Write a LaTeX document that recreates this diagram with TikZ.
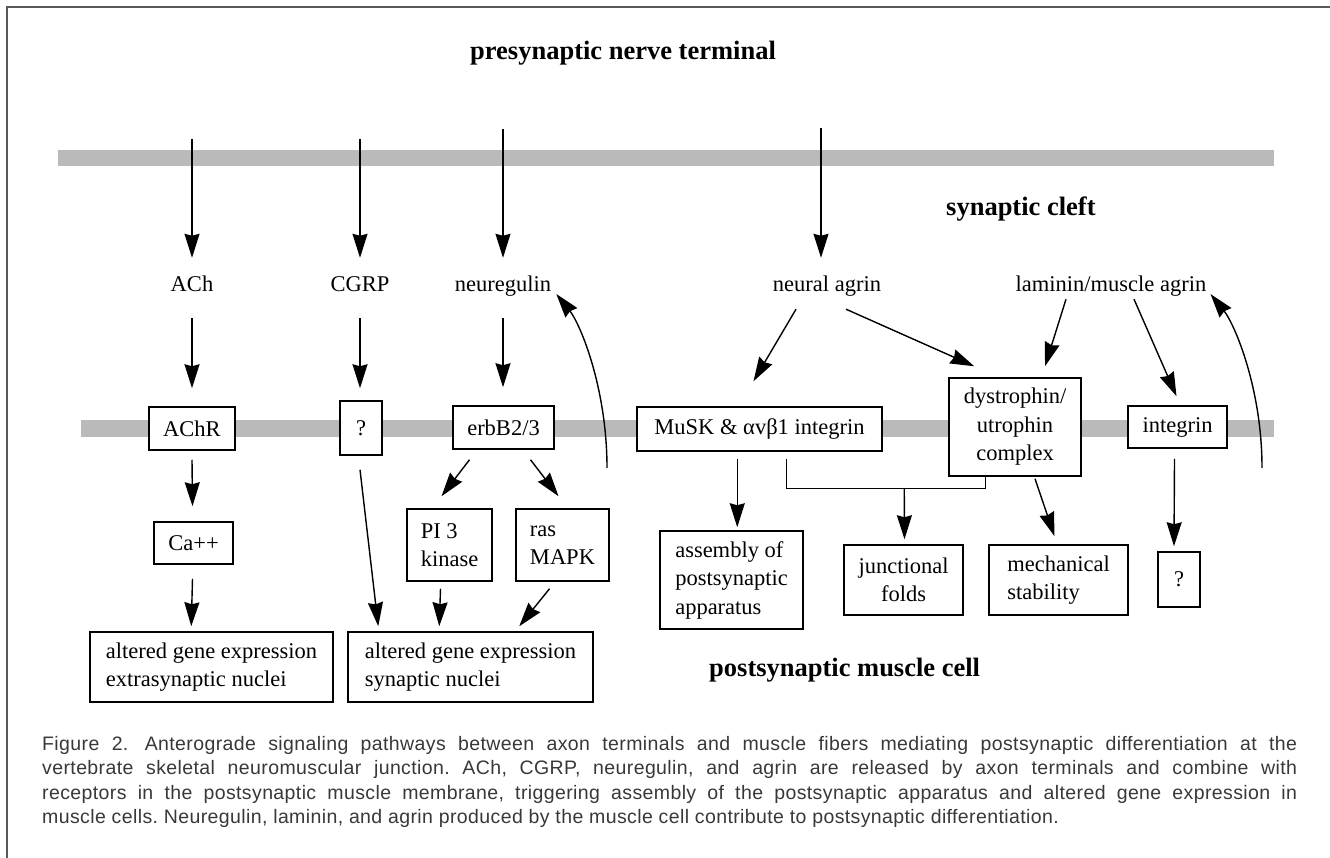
\documentclass[tikz,border=0pt]{standalone}
\usepackage{fontspec}
\setmainfont{Liberation Serif}
\newfontfamily\capfont[LetterSpace=2]{Liberation Sans}
\usetikzlibrary{arrows.meta,calc}
\newcommand\dfont{\fontsize{22.5pt}{28.5pt}\selectfont}
\newcommand\tfont{\fontsize{26.5pt}{30pt}\selectfont\bfseries}
\newcommand\cfont{\capfont\fontsize{19.5pt}{24.5pt}\selectfont\frenchspacing}
\tikzset{
  box/.style 2 args={draw, line width=1.5pt, fill=white, inner sep=0pt, minimum width=#1, minimum height=#2, font=\dfont},
  lbl/.style={inner sep=0pt, font=\dfont, anchor=base, text height=15pt, text depth=5pt},
  ttl/.style={inner sep=0pt, font=\tfont, anchor=base west},
  capline/.style={inner sep=0pt, anchor=base west, font=\cfont, text=black!78},
  arr/.style={line width=1.4pt, -{Stealth[length=24pt,width=15pt,inset=2pt]}},
  ln/.style={line width=1.4pt},
  membrane/.style={fill=black!27, draw=none}}
\begin{document}
\begin{tikzpicture}[x=1pt,y=-1pt]
\useasboundingbox (0,0) rectangle (1330,858);
% frame
\draw[line width=2pt, black!65] (7,858) -- (7,7) -- (1330,7);
% membranes
\fill[membrane] (58,150) rectangle (1274,166);
\fill[membrane] (81,420) rectangle (1274,437);
% titles
\node[ttl] (pre) at (470,60) {presynaptic nerve terminal};
\node[ttl] (cleft) at (946,216) {synaptic cleft};
\node[ttl] (post) at (709,676) {postsynaptic muscle cell};
% released signals
\node[lbl] (ach) at (192,292) {ACh};
\node[lbl] (cgrp) at (360,292) {CGRP};
\node[lbl] (nrg) at (503,292) {neuregulin};
\node[lbl] (nagr) at (827,292) {neural agrin};
\node[lbl] (lam) at (1111,292) {laminin/muscle agrin};
% free starts at nerve terminal
\coordinate (sA) at (192,139);
\coordinate (sC) at (360,139);
\coordinate (sN) at (503,129);
\coordinate (sG) at (821,128);
% membrane boxes
\node[box={86pt}{43pt}] (achr) at (192,428.5) {AChR};
\node[box={42pt}{54pt}] (q1) at (361,428) {?};
\node[box={101pt}{43pt}] (erb) at (503.5,427.5) {erbB2/3};
\node[box={245pt}{44pt}] (musk) at (759.5,429) {MuSK \& αvβ1 integrin};
\node[box={132pt}{98pt}, align=center] (dys) at (1015,427) {dystrophin/\\utrophin\\complex};
\node[box={99pt}{42pt}] (integ) at (1177.5,427) {integrin};
% cytoplasm boxes
\node[box={79pt}{42pt}] (ca) at (193.5,543) {Ca++};
\node[box={85pt}{72pt}, align=left] (pi) at (449.5,545) {PI 3\\kinase};
\node[box={93pt}{72pt}, align=left] (ras) at (562.5,545) {ras\\MAPK};
\node[box={243pt}{70pt}, align=left] (extra) at (211.5,667) {altered gene expression\\extrasynaptic nuclei};
\node[box={245pt}{70pt}, align=left] (syn) at (470.5,667) {altered gene expression\\synaptic nuclei};
\node[box={143pt}{98pt}, align=left] (asm) at (731.5,580) {assembly of\\postsynaptic\\apparatus};
\node[box={119pt}{70pt}, align=center] (jf) at (903.5,580) {junctional\\folds};
\node[box={139pt}{70pt}, align=left] (mech) at (1058.5,580) {mechanical\\stability};
\node[box={42pt}{55pt}] (q2) at (1179,579.5) {?};
% arrows across the cleft
\draw[arr, shorten >=19pt] (sA) -- (ach.north);
\draw[arr, shorten >=19pt] (sC) -- (cgrp.north);
\draw[arr, shorten >=19pt] (sN) -- (nrg.north);
\draw[arr, shorten >=19pt] (sG) -- (sG |- nagr.north);
\draw[arr, shorten <=21pt, shorten >=18pt] (ach.south) -- (achr.north);
\draw[arr, shorten <=21pt, shorten >=12pt] (cgrp.south) -- (cgrp.south |- q1.north);
\draw[arr, shorten <=21pt, shorten >=18pt] (nrg.south) -- (nrg.south |- erb.north);
\draw[arr] ($(nagr.south)+(-31,12)$) -- ($(musk.north)+(-6,-25)$);
\draw[arr] ($(nagr.south)+(19,12)$) -- ($(dys.north west)+(26,-11)$);
\draw[arr] ($(lam.south)+(-45,2)$) -- ($(dys.north)+(30,-11)$);
\draw[arr] ($(lam.south)+(23,2)$) -- ($(integ.north)+(-1,-9)$);
% postsynaptic arrows
\draw[arr] ($(achr.south)+(0,9)$) -- ($(ca.north)+(-1,-15)$);
\draw[arr] ($(ca.south)+(-1,14)$) -- ($(extra.north west)+(102,-5)$);
\draw[arr] ($(q1.south)+(-1,14)$) -- ($(syn.north west)+(31,-5)$);
\draw[arr] ($(erb.south)+(-34,10)$) -- ($(pi.north)+(-8,-12)$);
\draw[arr] ($(erb.south)+(27,10)$) -- ($(ras.north)+(-4,-12)$);
\draw[arr] ($(pi.south)+(-9,7)$) -- ($(syn.north west)+(92,-5)$);
\draw[arr] ($(ras.south)+(-13,7)$) -- ($(syn.north west)+(172,-5)$);
\draw[arr] ($(musk.south west)+(101,7)$) -- ($(asm.north west)+(78,-3)$);
\draw[ln] ($(musk.south west)+(150,7)$) |- ($(dys.south west)+(37,12)$) -- ($(dys.south west)+(37,0)$);
\coordinate (jn) at ($(dys.south west)+(-44,12)$);
\draw[arr] (jn) -- ($(jf.north)+(1,-5)$);
\draw[arr] ($(dys.south)+(20,2)$) -- ($(mech.north)+(-4,-8)$);
\draw[arr] ($(integ.south)+(-3,10)$) -- ($(q2.north)+(-5,-5)$);
% retrograde curved arrows
\coordinate (cL) at (607,468);
\coordinate (cR) at (1262,468);
\coordinate (tL) at ($(nrg.east)+(5,7)$);
\coordinate (tR) at ($(lam.east)+(4,7)$);
\draw[arr] (cL) .. controls +(0,-80) and +(24,30) .. (tL);
\draw[arr] (cR) .. controls +(0,-80) and +(24,30) .. (tR);
% caption
\node[capline] (c1) at (42,750) {\makebox[1255pt][s]{Figure 2.\hspace{4pt} Anterograde signaling pathways between axon terminals and muscle fibers mediating postsynaptic differentiation at the}};
\node[capline] (c2) at (42,774.5) {\makebox[1255pt][s]{vertebrate skeletal neuromuscular junction. ACh, CGRP, neuregulin, and agrin are released by axon terminals and combine with}};
\node[capline] (c3) at (42,799) {\makebox[1255pt][s]{receptors in the postsynaptic muscle membrane, triggering assembly of the postsynaptic apparatus and altered gene expression in}};
\node[capline] (c4) at (42,823.5) {muscle cells. Neuregulin, laminin, and agrin produced by the muscle cell contribute to postsynaptic differentiation.};
\end{tikzpicture}
\end{document}
